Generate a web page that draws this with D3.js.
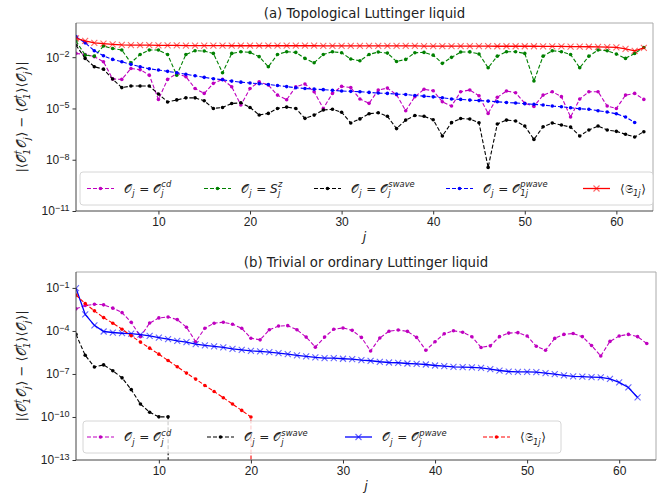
<!DOCTYPE html>
<html>
<head>
<meta charset="utf-8">
<script src="https://d3js.org/d3.v7.min.js"></script>
<style>
  body { margin: 0; background: #fff; }
  svg { font-family: "DejaVu Sans", sans-serif; }
  .axis path { display: none; }
  .axis line { stroke: #333; }
  .axis text { font-size: 12px; fill: #222; }
</style>
</head>
<body>
<svg id="chart" width="664" height="493"></svg>
<script>
// values are log10 of |<O1†Oj> - <O1†><Oj>|, index i -> site j = i+1
// -Infinity means the value is exactly zero (drawn clipped, straight down)
const cdTop = [-1.78,-1.84,-1.97,-2.27,-3.27,-3.30,-2.66,-2.73,-3.05,-4.47,
  -3.30,-2.95,-3.14,-3.83,-4.12,-3.53,-3.30,-3.73,-4.80,-3.83,
  -3.44,-3.63,-4.22,-4.49,-3.73,-3.57,-4.02,-5.00,-4.12,-3.71,
  -3.78,-4.45,-4.70,-3.92,-3.81,-4.20,-5.13,-4.31,-3.88,-3.96,
  -4.61,-4.86,-4.02,-3.92,-4.26,-5.29,-4.35,-3.98,-4.08,-4.70,
  -4.88,-4.22,-4.02,-4.31,-5.50,-4.45,-4.02,-4.02,-4.86,-5.00,
  -4.22,-4.12,-4.47];
const szTop = [-1.05,-1.88,-1.94,-1.35,-1.49,-1.58,-2.33,-1.84,-1.58,-1.58,
  -1.84,-3.05,-1.84,-1.62,-1.64,-1.78,-2.91,-1.78,-1.68,-1.72,
  -1.97,-2.56,-1.84,-1.68,-1.72,-2.07,-2.33,-1.84,-1.68,-1.74,
  -2.11,-2.21,-1.84,-1.70,-1.76,-2.25,-2.13,-1.74,-1.72,-1.88,
  -2.36,-2.01,-1.70,-1.69,-1.81,-2.62,-1.94,-1.68,-1.68,-1.78,
  -3.39,-1.94,-1.62,-1.68,-1.84,-2.62,-1.94,-1.58,-1.62,-1.82,
  -2.07,-1.78,-1.43];
const swaveTop = [-1.30,-2.07,-2.56,-2.70,-3.28,-3.78,-3.69,-3.69,-3.69,-4.15,
  -4.62,-4.50,-4.38,-4.38,-4.55,-5.00,-4.94,-4.71,-4.67,-4.94,
  -5.38,-5.29,-5.00,-4.92,-5.00,-5.58,-5.39,-5.09,-5.05,-5.22,
  -5.85,-5.61,-5.31,-5.25,-5.46,-6.18,-5.68,-5.41,-5.46,-5.66,
  -6.61,-5.83,-5.59,-5.62,-5.84,-8.45,-5.91,-5.68,-5.73,-6.03,
  -6.81,-6.07,-5.85,-5.97,-6.09,-6.61,-6.26,-6.03,-6.26,-6.34,
  -6.51,-6.67,-6.36];
const pwaveTop = [-0.80,-1.16,-1.62,-1.92,-2.13,-2.27,-2.42,-2.56,-2.68,-2.75,
  -2.83,-2.91,-3.00,-3.09,-3.18,-3.26,-3.32,-3.40,-3.46,-3.51,
  -3.55,-3.60,-3.66,-3.72,-3.79,-3.83,-3.87,-3.90,-3.94,-3.98,
  -4.00,-4.02,-4.06,-4.10,-4.12,-4.16,-4.18,-4.24,-4.28,-4.32,
  -4.37,-4.45,-4.47,-4.51,-4.54,-4.57,-4.61,-4.65,-4.68,-4.72,
  -4.76,-4.80,-4.86,-4.90,-4.96,-5.02,-5.05,-5.13,-5.21,-5.31,
  -5.50,-5.82];
const sigmaTop = [-0.90,-1.04,-1.16,-1.21,-1.25,-1.28,-1.29,-1.30,-1.30,-1.31,
  -1.31,-1.31,-1.32,-1.32,-1.32,-1.32,-1.32,-1.33,-1.33,-1.33,
  -1.33,-1.33,-1.33,-1.33,-1.33,-1.33,-1.33,-1.34,-1.34,-1.34,
  -1.34,-1.34,-1.34,-1.34,-1.34,-1.34,-1.34,-1.34,-1.35,-1.35,
  -1.35,-1.35,-1.35,-1.35,-1.35,-1.35,-1.36,-1.36,-1.36,-1.36,
  -1.36,-1.37,-1.37,-1.37,-1.38,-1.38,-1.39,-1.40,-1.41,-1.43,
  -1.52,-1.63,-1.45];

const cdBot = [-2.46,-2.23,-2.14,-2.18,-2.41,-2.72,-3.40,-4.40,-3.45,-3.09,
  -3.03,-3.21,-3.74,-4.75,-3.81,-3.46,-3.39,-3.53,-3.81,-4.51,
  -4.62,-3.92,-3.66,-3.63,-3.92,-4.43,-5.13,-4.43,-3.88,-3.79,
  -3.96,-4.45,-5.40,-4.49,-4.02,-3.93,-4.03,-4.45,-5.35,-4.75,
  -4.20,-3.99,-4.09,-4.41,-5.15,-5.04,-4.40,-4.15,-4.12,-4.35,
  -5.07,-5.35,-4.52,-4.24,-4.18,-4.40,-5.02,-5.75,-4.73,-4.35,
  -4.24,-4.40,-4.88];
const swaveBot = [-4.24,-5.70,-6.51,-6.37,-6.78,-7.27,-8.09,-9.10,-9.67,-9.99,-9.99,-Infinity];
const pwaveBot = [-1.02,-2.85,-3.61,-4.04,-4.11,-4.16,-4.19,-4.26,-4.34,-4.46,
  -4.57,-4.69,-4.78,-4.92,-5.01,-5.08,-5.15,-5.25,-5.32,-5.39,
  -5.43,-5.48,-5.55,-5.61,-5.71,-5.78,-5.85,-5.90,-5.90,-5.94,
  -5.97,-6.04,-6.08,-6.15,-6.20,-6.22,-6.27,-6.29,-6.34,-6.41,
  -6.45,-6.50,-6.52,-6.54,-6.57,-6.66,-6.76,-6.83,-6.85,-6.85,
  -6.87,-6.94,-7.01,-7.10,-7.17,-7.19,-7.22,-7.24,-7.34,-7.59,
  -7.94,-8.64];
const sigmaBot = [-1.50,-2.09,-2.60,-3.07,-3.46,-3.88,-4.34,-4.78,-5.20,-5.62,
  -6.06,-6.50,-6.94,-7.36,-7.80,-8.22,-8.66,-9.10,-9.54,-10.00,-Infinity];

const xTicks = [10, 20, 30, 40, 50, 60];
const yTicksTop = [-11, -8, -5, -2];   // exponents
const yTicksBot = [-13, -10, -7, -4, -1];

const O = "\u{1D4AA}";   // script O
const S = "\u{1D516}";   // fraktur S

// legend labels as [base, sub, sup] pieces
const lblCd = [{b: O, sub: "j"}, {b: " = "}, {b: O, sub: "j", sup: "cd"}];
const lblSz = [{b: O, sub: "j"}, {b: " = "}, {b: "S", it: true, sub: "j", sup: "z"}];
const lblSw = [{b: O, sub: "j"}, {b: " = "}, {b: O, sub: "j", sup: "swave"}];
const lblPw1 = [{b: O, sub: "j"}, {b: " = "}, {b: O, sub: "1j", sup: "pwave"}];
const lblPw = [{b: O, sub: "j"}, {b: " = "}, {b: O, sub: "j", sup: "pwave"}];
const lblSig = [{b: "\u27E8"}, {b: S, sub: "1j"}, {b: "\u27E9"}];
const lblY = [{b: "|\u27E8"}, {b: O, sub: "1", sup: "\u2020"}, {b: O, sub: "j"},
  {b: "\u27E9 \u2212 \u27E8"}, {b: O, sub: "1", sup: "\u2020"}, {b: "\u27E9\u27E8"},
  {b: O, sub: "j"}, {b: "\u27E9|"}];

const magenta = "#bf00bf", green = "#008000", black = "#000000", blue = "#0000ff", red = "#ff0000";

const panels = [
  {
    title: "(a) Topological Luttinger liquid",
    left: 76, right: 653, top: 23, bottom: 211,
    yDomain: [1e-11, 1], yTicks: yTicksTop,
    series: [
      {data: cdTop, color: magenta, dash: "4,2", marker: "dot", label: lblCd},
      {data: szTop, color: green, dash: "4,2", marker: "dot", label: lblSz},
      {data: swaveTop, color: black, dash: "4,2", marker: "dot", label: lblSw},
      {data: pwaveTop, color: blue, dash: "4,2", marker: "dot", label: lblPw1},
      {data: sigmaTop, color: red, dash: null, marker: "x", label: lblSig}
    ],
    legend: {x: 80, y: 172, w: 573, h: 33, items: [87, 204, 314, 446, 583]}
  },
  {
    title: "(b) Trivial or ordinary Luttinger liquid",
    left: 76, right: 656, top: 272, bottom: 460,
    yDomain: [1e-13, Math.pow(10, 0.11)], yTicks: yTicksBot,
    series: [
      {data: cdBot, color: magenta, dash: "4,2", marker: "dot", label: lblCd},
      {data: swaveBot, color: black, dash: "4,2", marker: "dot", label: lblSw},
      {data: pwaveBot, color: blue, dash: null, marker: "x", label: lblPw},
      {data: sigmaBot, color: red, dash: "4,2", marker: "dot", label: lblSig}
    ],
    legend: {x: 83, y: 421, w: 478, h: 32, items: [87, 207, 345, 483]}
  }
];

const svg = d3.select("#chart");

// draws a math-like label from pieces, left aligned at (0,0); returns width
function mathLabel(g, parts, size) {
  let x = 0;
  parts.forEach(p => {
    const t = g.append("text").attr("x", x).attr("y", 0)
      .attr("font-size", size)
      .attr("font-style", p.it ? "italic" : "normal")
      .attr("xml:space", "preserve")
      .text(p.b);
    x += t.node().getComputedTextLength();
    let w = 0;
    if (p.sub) {
      const s = g.append("text").attr("x", x + 0.3).attr("y", size * 0.3)
        .attr("font-size", size * 0.7).attr("font-style", "italic").text(p.sub);
      w = s.node().getComputedTextLength();
    }
    if (p.sup) {
      const s = g.append("text").attr("x", x + 0.3).attr("y", -size * 0.42)
        .attr("font-size", size * 0.7).attr("font-style", "italic").text(p.sup);
      w = Math.max(w, s.node().getComputedTextLength());
    }
    if (w) x += w + 1;
  });
  return x;
}

function drawMarker(g, type, color, cx, cy) {
  if (type === "dot") {
    g.append("circle").attr("cx", cx).attr("cy", cy).attr("r", 1.8).attr("fill", color);
  } else {
    g.append("path")
      .attr("d", `M${cx - 3},${cy - 3}L${cx + 3},${cy + 3}M${cx - 3},${cy + 3}L${cx + 3},${cy - 3}`)
      .attr("stroke", color).attr("stroke-width", 1.1).attr("opacity", 0.6).attr("fill", "none");
  }
}

panels.forEach((p, pi) => {
  const x = d3.scaleLinear().domain([1, 64]).range([p.left, p.right]);
  const y = d3.scaleLog().domain(p.yDomain).range([p.bottom, p.top]);
  const g = svg.append("g");

  const clipId = "clip" + pi;
  svg.append("clipPath").attr("id", clipId).append("rect")
    .attr("x", p.left).attr("y", p.top)
    .attr("width", p.right - p.left).attr("height", p.bottom - p.top);

  // title
  g.append("text").attr("x", (p.left + p.right) / 2).attr("y", p.top - 5)
    .attr("text-anchor", "middle").attr("font-size", 13.3).attr("fill", "#222")
    .text(p.title);

  // data
  const plot = g.append("g").attr("clip-path", `url(#${clipId})`);
  p.series.forEach(s => {
    const vals = s.data.map(e => Math.pow(10, e));
    const yy = v => y(Math.max(v, 1e-300));
    const line = d3.line().x((d, i) => x(i + 1)).y(d => yy(d));
    plot.append("path").datum(vals)
      .attr("d", line)
      .attr("fill", "none")
      .attr("stroke", s.color)
      .attr("stroke-width", s.dash ? 1.1 : 1.3)
      .attr("stroke-dasharray", s.dash);
    vals.forEach((v, i) => drawMarker(plot, s.marker, s.color, x(i + 1), yy(v)));
  });

  // axes
  g.append("g").attr("class", "axis")
    .attr("transform", `translate(0,${p.bottom})`)
    .call(d3.axisBottom(x).tickValues(xTicks).tickSize(3.5).tickPadding(2.5));

  const yAxis = g.append("g").attr("class", "axis")
    .attr("transform", `translate(${p.left},0)`)
    .call(d3.axisLeft(y).tickValues(p.yTicks.map(e => Math.pow(10, e)))
      .tickSize(3.5).tickPadding(3).tickFormat(() => ""));
  yAxis.selectAll(".tick text").each(function(d) {
    const t = d3.select(this);
    const e = Math.round(Math.log10(d));
    t.append("tspan").text("10");
    t.append("tspan").attr("dy", "-0.5em").attr("font-size", "9px")
      .text("\u2212" + Math.abs(e));
  });

  // frame
  g.append("line").attr("x1", p.left).attr("x2", p.right).attr("y1", p.top).attr("y2", p.top)
    .attr("stroke", "#aaa");
  g.append("line").attr("x1", p.right).attr("x2", p.right).attr("y1", p.top).attr("y2", p.bottom)
    .attr("stroke", "#aaa");
  g.append("line").attr("x1", p.left).attr("x2", p.left).attr("y1", p.top).attr("y2", p.bottom)
    .attr("stroke", "#444");
  g.append("line").attr("x1", p.left).attr("x2", p.right).attr("y1", p.bottom).attr("y2", p.bottom)
    .attr("stroke", "#444");

  // x label
  g.append("text").attr("x", (p.left + p.right) / 2).attr("y", p.bottom + 30)
    .attr("text-anchor", "middle").attr("font-size", 12.5).attr("font-style", "italic")
    .attr("fill", "#222").text("j");

  // y label
  const yl = g.append("g").attr("fill", "#222");
  const wl = mathLabel(yl, lblY, 13);
  yl.attr("transform", `translate(26,${(p.top + p.bottom) / 2 + wl / 2}) rotate(-90)`);

  // legend
  const L = p.legend;
  const lg = g.append("g");
  lg.append("rect").attr("x", L.x).attr("y", L.y).attr("width", L.w).attr("height", L.h)
    .attr("rx", 3).attr("fill", "#fff").attr("fill-opacity", 0.8)
    .attr("stroke", "#d6d6d6");
  const cy = L.y + L.h / 2;
  p.series.forEach((s, i) => {
    const x0 = L.items[i];
    lg.append("line").attr("x1", x0).attr("x2", x0 + 27).attr("y1", cy).attr("y2", cy)
      .attr("stroke", s.color).attr("stroke-width", s.dash ? 1.1 : 1.3)
      .attr("stroke-dasharray", s.dash);
    drawMarker(lg, s.marker, s.color, x0 + 13.5, cy);
    const tg = lg.append("g").attr("transform", `translate(${x0 + 37},${cy + 4})`).attr("fill", "#222");
    mathLabel(tg, s.label, 12);
  });
});
</script>
</body>
</html>
